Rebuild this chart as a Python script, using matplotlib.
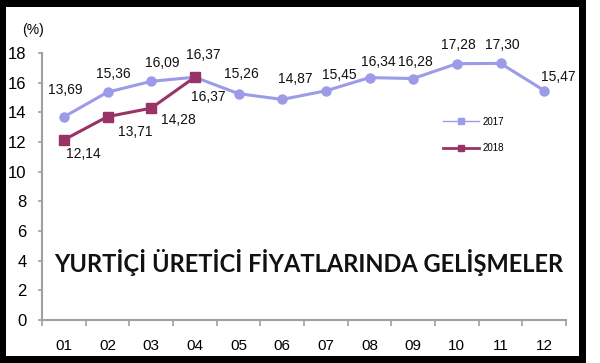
import matplotlib
matplotlib.use('Agg')
import matplotlib.pyplot as plt
from matplotlib.lines import Line2D
from matplotlib.patches import Rectangle

# Data
months = ['01', '02', '03', '04', '05', '06', '07', '08', '09', '10', '11', '12']
vals_2017 = [13.69, 15.36, 16.09, 16.37, 15.26, 14.87, 15.45, 16.34, 16.28, 17.28, 17.30, 15.47]
vals_2018 = [12.14, 13.71, 14.28, 16.37]
yticks = [0, 2, 4, 6, 8, 10, 12, 14, 16, 18]
title = 'YURTİÇİ ÜRETİCİ FİYATLARINDA GELİŞMELER'

# label offsets in pixels (dx, dy), dy positive = up
off_2017 = [(1, 27), (6, 18), (11, 18), (8, 22), (3, 20), (13, 20),
            (13, 16), (9, 16), (2, 17), (2, 19), (2, 18), (14, 14)]
off_2018 = [(19, -14), (28, -15), (27, -12), (13, -20)]

c17 = '#9b9be8'
c18 = '#993366'
grey = '#a0a0a0'

plt.rcParams['font.family'] = ['Liberation Sans', 'DejaVu Sans']

fig = plt.figure(figsize=(6, 3.63), dpi=100)
fig.patch.set_facecolor('white')
W, H = 600, 363
ax = fig.add_axes([42 / W, 1 - 320 / H, (566 - 42) / W, (320 - 53) / H])

x = list(range(len(months)))
x18 = x[:len(vals_2018)]
ax.plot(x, vals_2017, color=c17, lw=2.2, marker='o', ms=6.5, zorder=3)
ax.plot(x18, vals_2018, color=c18, lw=2.2, marker='s', ms=6.5, zorder=4)

def fmt(v):
    return ('%.2f' % v).replace('.', ',')

for xi, v, (dx, dy) in zip(x, vals_2017, off_2017):
    ax.annotate(fmt(v), (xi, v), xytext=(dx, dy), textcoords='offset pixels',
                ha='center', va='center', fontsize=10, color='#111111')
for xi, v, (dx, dy) in zip(x18, vals_2018, off_2018):
    ax.annotate(fmt(v), (xi, v), xytext=(dx, dy), textcoords='offset pixels',
                ha='center', va='center', fontsize=10, color='#111111')

ax.set_xlim(-0.5, len(months) - 0.5)
ax.set_ylim(0, 18)
ax.set_yticks(yticks)
ax.set_yticklabels([str(t) for t in yticks], fontsize=12)
ax.set_xticks(x)
ax.set_xticklabels(months, fontsize=11)
ax.set_xticks([i - 0.5 for i in range(len(months) + 1)], minor=True)
ax.tick_params(axis='x', which='major', length=0, pad=14)
ax.tick_params(axis='x', which='minor', length=4, color=grey, width=1.2)
ax.tick_params(axis='y', length=3, color=grey, width=1.2, pad=8)
for s in ['top', 'right']:
    ax.spines[s].set_visible(False)
for s in ['left', 'bottom']:
    ax.spines[s].set_color(grey)
    ax.spines[s].set_linewidth(1.5)

fig.text(33 / W, 1 - 30 / H, '(%)', ha='center', va='center', fontsize=10)

fig.text(309 / W, 1 - 263 / H, title, ha='center', va='center',
         fontsize=17, fontweight='bold', family=['Lato', 'DejaVu Sans'], color='#111111')

handles = [Line2D([], [], color=c17, lw=1, marker='s', ms=4),
           Line2D([], [], color=c18, lw=2, marker='s', ms=5)]
fig.legend(handles, ['2017', '2018'], loc='center left',
           bbox_to_anchor=(434 / W, 1 - 135 / H), frameon=False, fontsize=7,
           handlelength=3.7, handletextpad=0.4, labelspacing=1.7)

# black frame
for (x0, y0, w, h) in [(0, 0, 6, H), (579, 0, 7, H), (0, 0, 586, 7), (0, 356, 586, 7)]:
    fig.add_artist(Rectangle((x0 / W, 1 - (y0 + h) / H), w / W, h / H,
                             transform=fig.transFigure, color='black', lw=0))

fig.savefig('out.png', dpi=100)
